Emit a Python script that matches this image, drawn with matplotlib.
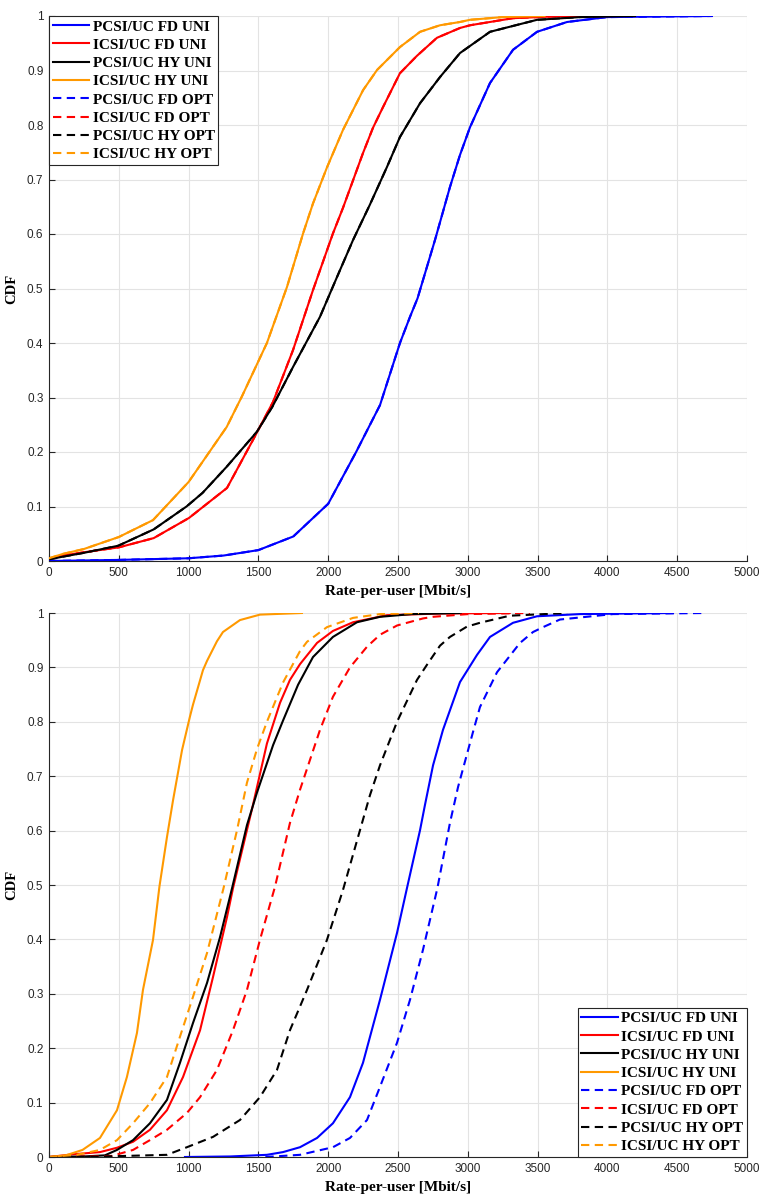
import matplotlib
matplotlib.use("Agg")
import matplotlib.pyplot as plt

# ---------------- data (rate in Mbit/s, CDF level) ----------------
labels = ["PCSI/UC FD UNI", "ICSI/UC FD UNI", "PCSI/UC HY UNI", "ICSI/UC HY UNI",
          "PCSI/UC FD OPT", "ICSI/UC FD OPT", "PCSI/UC HY OPT", "ICSI/UC HY OPT"]
colors = ["#0000ff", "#ff0000", "#000000", "#ff9900",
          "#0000ff", "#ff0000", "#000000", "#ff9900"]
styles = ["-", "-", "-", "-", "--", "--", "--", "--"]

# Top panel (OPT curves coincide with UNI curves)
top_pcsi_fd_x = [0, 500, 1000, 1250, 1500, 1750, 2000, 2200, 2371, 2514, 2586, 2640, 2765, 2872, 2944, 3016, 3159, 3324, 3496, 3711, 3997, 4749]
top_pcsi_fd_y = [0, 0.002, 0.005, 0.01, 0.02, 0.045, 0.105, 0.2, 0.286, 0.4, 0.448, 0.482, 0.589, 0.686, 0.745, 0.796, 0.877, 0.938, 0.971, 0.989, 0.998, 1.0]

top_icsi_fd_x = [0, 100, 250, 500, 750, 1003, 1275, 1461, 1605, 1748, 1891, 2034, 2106, 2250, 2321, 2393, 2514, 2636, 2779, 2944, 3016, 3324, 3600, 4019]
top_icsi_fd_y = [0.004, 0.01, 0.016, 0.025, 0.042, 0.079, 0.134, 0.222, 0.292, 0.387, 0.497, 0.601, 0.648, 0.749, 0.795, 0.833, 0.895, 0.927, 0.960, 0.978, 0.983, 0.996, 0.999, 1.0]

top_pcsi_hy_x = [0, 100, 250, 496, 750, 985, 1100, 1273, 1489, 1600, 1748, 1941, 2063, 2178, 2299, 2421, 2514, 2658, 2801, 2944, 3159, 3496, 3804, 4198]
top_pcsi_hy_y = [0.003, 0.008, 0.015, 0.028, 0.058, 0.1, 0.125, 0.173, 0.237, 0.283, 0.356, 0.448, 0.521, 0.589, 0.654, 0.723, 0.778, 0.840, 0.888, 0.932, 0.971, 0.993, 0.998, 1.0]

top_icsi_hy_x = [0, 100, 250, 500, 745, 1000, 1273, 1382, 1561, 1705, 1820, 1891, 1991, 2106, 2250, 2350, 2514, 2658, 2801, 2944, 3016, 3250, 3550]
top_icsi_hy_y = [0.005, 0.013, 0.022, 0.044, 0.075, 0.145, 0.246, 0.302, 0.4, 0.503, 0.601, 0.656, 0.722, 0.791, 0.864, 0.901, 0.943, 0.971, 0.983, 0.989, 0.993, 0.998, 1.0]

# Bottom panel
bot_pcsi_fd_x = [974, 1300, 1561, 1676, 1798, 1920, 2034, 2156, 2249, 2371, 2493, 2564, 2658, 2693, 2751, 2822, 2944, 3066, 3159, 3324, 3496, 3804, 4470]
bot_pcsi_fd_y = [0.0, 0.001, 0.004, 0.009, 0.018, 0.035, 0.062, 0.11, 0.173, 0.289, 0.412, 0.494, 0.601, 0.647, 0.72, 0.785, 0.873, 0.923, 0.956, 0.982, 0.994, 0.998, 1.0]

bot_icsi_fd_x = [0, 172, 365, 487, 602, 723, 845, 960, 1082, 1175, 1275, 1318, 1418, 1461, 1490, 1561, 1655, 1726, 1798, 1920, 2034, 2178, 2421, 2800, 3300]
bot_icsi_fd_y = [0.0, 0.005, 0.009, 0.017, 0.028, 0.05, 0.086, 0.147, 0.233, 0.331, 0.441, 0.494, 0.601, 0.647, 0.68, 0.76, 0.835, 0.877, 0.906, 0.945, 0.967, 0.983, 0.996, 0.999, 1.0]

bot_pcsi_hy_x = [0, 250, 400, 487, 602, 723, 845, 938, 1031, 1132, 1225, 1314, 1418, 1490, 1605, 1676, 1784, 1891, 2034, 2206, 2371, 2600, 2950]
bot_pcsi_hy_y = [0.0, 0.001, 0.003, 0.013, 0.031, 0.062, 0.105, 0.173, 0.246, 0.32, 0.404, 0.497, 0.61, 0.67, 0.757, 0.802, 0.868, 0.919, 0.956, 0.983, 0.993, 0.998, 1.0]

bot_icsi_hy_x = [0, 120, 240, 365, 487, 558, 630, 673, 745, 791, 845, 888, 953, 1010, 1031, 1103, 1132, 1203, 1246, 1368, 1511, 1812]
bot_icsi_hy_y = [0.0, 0.003, 0.013, 0.035, 0.086, 0.147, 0.228, 0.307, 0.399, 0.497, 0.588, 0.655, 0.748, 0.81, 0.831, 0.895, 0.912, 0.948, 0.965, 0.987, 0.997, 1.0]

bot_pcsi_fd_opt_x = [1550, 1798, 2034, 2156, 2278, 2371, 2493, 2586, 2679, 2782, 2872, 2930, 3037, 3087, 3209, 3374, 3467, 3539, 3660, 4040, 4700]
bot_pcsi_fd_opt_y = [0.0, 0.004, 0.018, 0.035, 0.068, 0.129, 0.21, 0.289, 0.381, 0.494, 0.614, 0.68, 0.781, 0.827, 0.891, 0.945, 0.965, 0.974, 0.988, 0.998, 1.0]

bot_icsi_fd_opt_x = [0, 450, 602, 723, 845, 988, 1082, 1203, 1318, 1418, 1511, 1619, 1726, 1798, 1941, 2034, 2156, 2278, 2371, 2493, 2679, 2751, 3000, 3445]
bot_icsi_fd_opt_y = [0.0, 0.002, 0.013, 0.031, 0.05, 0.081, 0.11, 0.16, 0.233, 0.307, 0.399, 0.497, 0.614, 0.675, 0.785, 0.846, 0.9, 0.938, 0.96, 0.977, 0.99, 0.993, 0.998, 1.0]

bot_pcsi_hy_opt_x = [0, 400, 845, 988, 1175, 1368, 1511, 1633, 1726, 1848, 1991, 2106, 2249, 2299, 2371, 2493, 2636, 2708, 2801, 2872, 2994, 3087, 3300, 3711]
bot_pcsi_hy_opt_y = [0.0, 0.001, 0.004, 0.018, 0.037, 0.068, 0.11, 0.16, 0.233, 0.307, 0.399, 0.491, 0.62, 0.665, 0.72, 0.8, 0.877, 0.905, 0.94, 0.956, 0.975, 0.982, 0.995, 1.0]

bot_icsi_hy_opt_x = [0, 200, 365, 487, 602, 723, 845, 938, 1031, 1132, 1250, 1347, 1418, 1490, 1561, 1676, 1798, 1848, 1991, 2178, 2371, 2650]
bot_icsi_hy_opt_y = [0.0, 0.004, 0.013, 0.031, 0.062, 0.099, 0.147, 0.221, 0.294, 0.375, 0.494, 0.601, 0.688, 0.75, 0.8, 0.872, 0.93, 0.947, 0.974, 0.991, 0.998, 1.0]

top_series = [
    (top_pcsi_fd_x, top_pcsi_fd_y), (top_icsi_fd_x, top_icsi_fd_y),
    (top_pcsi_hy_x, top_pcsi_hy_y), (top_icsi_hy_x, top_icsi_hy_y),
    (top_pcsi_fd_x, top_pcsi_fd_y), (top_icsi_fd_x, top_icsi_fd_y),
    (top_pcsi_hy_x, top_pcsi_hy_y), (top_icsi_hy_x, top_icsi_hy_y),
]
bot_series = [
    (bot_pcsi_fd_x, bot_pcsi_fd_y), (bot_icsi_fd_x, bot_icsi_fd_y),
    (bot_pcsi_hy_x, bot_pcsi_hy_y), (bot_icsi_hy_x, bot_icsi_hy_y),
    (bot_pcsi_fd_opt_x, bot_pcsi_fd_opt_y), (bot_icsi_fd_opt_x, bot_icsi_fd_opt_y),
    (bot_pcsi_hy_opt_x, bot_pcsi_hy_opt_y), (bot_icsi_hy_opt_x, bot_icsi_hy_opt_y),
]

x_ticks = [0, 500, 1000, 1500, 2000, 2500, 3000, 3500, 4000, 4500, 5000]
y_ticks = [0, 0.1, 0.2, 0.3, 0.4, 0.5, 0.6, 0.7, 0.8, 0.9, 1]
y_tick_labels = ["0", "0.1", "0.2", "0.3", "0.4", "0.5", "0.6", "0.7", "0.8", "0.9", "1"]

# ---------------- figure ----------------
W, H = 762, 1197
fig = plt.figure(figsize=(W / 100, H / 100), dpi=100)
ax_top = fig.add_axes([49 / W, 1 - 561 / H, 698 / W, 545 / H])
ax_bot = fig.add_axes([49 / W, 1 - 1157 / H, 698 / W, 544 / H])

serif = "Liberation Serif"
sans = "Liberation Sans"
axcol = "#262626"
DASH = (0, (4, 2.6))
LW = 1.5


def style_axes(ax):
    ax.set_xlim(0, 5000)
    ax.set_ylim(0, 1)
    ax.set_xticks(x_ticks)
    ax.set_xticklabels([str(t) for t in x_ticks], fontfamily=sans, fontsize=8.5, color=axcol)
    ax.set_yticks(y_ticks)
    ax.set_yticklabels(y_tick_labels, fontfamily=sans, fontsize=8.5, color=axcol)
    ax.grid(True, color="#e3e3e3", linewidth=0.8)
    ax.set_axisbelow(True)
    for s in ["top", "right"]:
        ax.spines[s].set_visible(False)
    for s in ["left", "bottom"]:
        ax.spines[s].set_color(axcol)
        ax.spines[s].set_linewidth(0.8)
    ax.tick_params(direction="in", length=4, width=0.8, color=axcol, pad=4)
    ax.set_ylabel("CDF", fontfamily=serif, fontweight="bold", fontsize=10.5, labelpad=6)
    ax.set_xlabel("Rate-per-user [Mbit/s]", fontfamily=serif, fontweight="bold", fontsize=11, labelpad=5)


# top: dashed OPT under coinciding solid UNI
for (xs, ys), lab, c in zip(top_series[4:], labels[4:], colors[4:]):
    ax_top.plot(xs, ys, color=c, linewidth=LW, linestyle=DASH, label=lab, zorder=2)
for (xs, ys), lab, c in zip(top_series[:4], labels[:4], colors[:4]):
    ax_top.plot(xs, ys, color=c, linewidth=LW, linestyle="-", label=lab, zorder=3)
handles, labs = ax_top.get_legend_handles_labels()
order = [4, 5, 6, 7, 0, 1, 2, 3]
handles = [handles[i] for i in order]
labs = [labs[i] for i in order]

for (xs, ys), lab, c, ls in zip(bot_series, labels, colors, styles):
    ax_bot.plot(xs, ys, color=c, linewidth=LW, linestyle=DASH if ls == "--" else "-", label=lab)

for ax in (ax_top, ax_bot):
    style_axes(ax)

leg_kw = dict(prop={"family": serif, "weight": "bold", "size": 11},
              frameon=True, fancybox=False, edgecolor="#262626", framealpha=1,
              borderaxespad=0, borderpad=0.25, labelspacing=0.3,
              handlelength=2.4, handletextpad=0.2)
lt = ax_top.legend(handles, labs, loc="upper left", **leg_kw)
lb = ax_bot.legend(loc="lower right", **leg_kw)
for lg in (lt, lb):
    lg.get_frame().set_linewidth(0.8)

fig.savefig("out.png", dpi=100)
